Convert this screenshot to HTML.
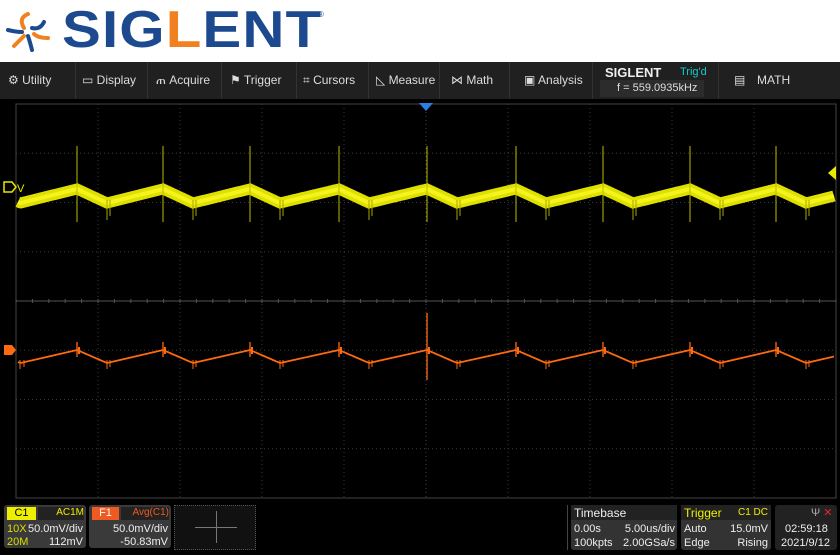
<!DOCTYPE html>
<html><head><meta charset="utf-8"><style>
body{margin:0;width:840px;height:555px;overflow:hidden;background:#000;font-family:"Liberation Sans",sans-serif;position:relative}
.top{position:absolute;left:0;top:0;width:840px;height:62px;background:#fff}
.logo{position:absolute;left:62px;top:2px;font:900 52px/56px "Liberation Sans",sans-serif;color:#1d4a8f;letter-spacing:1px;transform:scaleX(1.12);transform-origin:left}
.logo span{color:#f08020}
.menu{position:absolute;left:0;top:62px;width:840px;height:37px;background:#202020;color:#ddd;font-size:12px}
.menu div{position:absolute;top:11px}
.sep{position:absolute;top:0;width:1px;height:37px;background:#333}
.box{position:absolute;background:#3a3a3a;border-radius:3px;color:#eee;font-size:11px}
.box div{position:absolute}
</style></head><body>
<div class="top"><div class="logo">SIG<span>L</span>ENT</div>
<svg style="position:absolute;left:4px;top:8px" width="50" height="48" viewBox="0 0 50 48">
<g fill="none" stroke-width="4" stroke-linecap="round">
<path d="M24 6 Q14 10 20 20" stroke="#f08020"/><path d="M40 14 Q36 22 28 20" stroke="#1d4a8f"/>
<path d="M44 30 Q34 30 30 26" stroke="#f08020"/><path d="M28 42 Q26 34 24 28" stroke="#1d4a8f"/>
<path d="M10 38 Q16 32 20 28" stroke="#f08020"/><path d="M4 22 Q12 24 18 24" stroke="#1d4a8f"/></g></svg>
<div style="position:absolute;left:318px;top:10px;font-size:8px;color:#1d4a8f">®</div></div>
<div class="menu">
<div style="left:8px">⚙ Utility</div><div style="left:82px">▭ Display</div><div style="left:156px">ጠ Acquire</div>
<div style="left:230px">⚑ Trigger</div><div style="left:303px">⌗ Cursors</div><div style="left:376px">◺ Measure</div>
<div style="left:451px">⋈ Math</div><div style="left:524px">▣ Analysis</div>
<div style="left:605px;top:3px;font-weight:bold;font-size:13px;color:#eee">SIGLENT</div>
<div style="left:680px;top:4px;color:#1cc;font-size:11px">Trig'd</div>
<div style="left:600px;top:18px;width:104px;height:17px;background:#2c2c2c"></div>
<div style="left:617px;top:20px;font-size:11px">f = 559.0935kHz</div>
<div style="left:734px">▤</div><div style="left:757px">MATH</div>
<span class="sep" style="left:75px"></span><span class="sep" style="left:147px"></span><span class="sep" style="left:221px"></span><span class="sep" style="left:296px"></span><span class="sep" style="left:368px"></span><span class="sep" style="left:439px"></span><span class="sep" style="left:509px"></span><span class="sep" style="left:592px"></span><span class="sep" style="left:718px"></span>
</div>
<svg id="scr" style="position:absolute;left:0;top:99px" width="840" height="402"></svg>
<div class="box" style="left:4px;top:505px;width:82px;height:43px">
<div style="left:3px;top:2px;width:29px;height:13px;background:#ee0;color:#000;text-align:center;font-size:11px">C1</div>
<div style="left:34px;top:2px;width:46px;height:13px;background:#222;color:#ee0;text-align:right;font-size:10px">AC1M</div>
<div style="left:3px;top:18px;color:#dd0">10X</div><div style="right:3px;top:18px">50.0mV/div</div>
<div style="left:3px;top:31px;color:#dd0">20M</div><div style="right:3px;top:31px">112mV</div></div>
<div class="box" style="left:89px;top:505px;width:82px;height:43px">
<div style="left:3px;top:2px;width:27px;height:13px;background:#f05a20;color:#fff;text-align:center">F1</div>
<div style="left:32px;top:2px;width:48px;height:13px;background:#222;color:#f05a20;text-align:right;font-size:10px">Avg(C1)</div>
<div style="right:3px;top:18px">50.0mV/div</div><div style="right:3px;top:31px">-50.83mV</div></div>
<div style="position:absolute;left:174px;top:505px;width:80px;height:43px;border:1px dotted #555;background:#111">
<div style="position:absolute;left:20px;top:21px;width:42px;height:1px;background:#777"></div>
<div style="position:absolute;left:41px;top:5px;width:1px;height:32px;background:#777"></div></div>
<div style="position:absolute;left:567px;top:505px;width:1px;height:45px;background:#444"></div>
<div class="box" style="left:571px;top:505px;width:106px;height:45px;background:#333">
<div style="left:0;top:0;width:106px;height:15px;background:#222"></div>
<div style="left:3px;top:1px;font-size:12px">Timebase</div>
<div style="left:3px;top:18px">0.00s</div><div style="right:2px;top:18px">5.00us/div</div>
<div style="left:3px;top:32px">100kpts</div><div style="right:2px;top:32px">2.00GSa/s</div></div>
<div class="box" style="left:681px;top:505px;width:90px;height:45px;background:#333">
<div style="left:0;top:0;width:90px;height:15px;background:#222"></div>
<div style="left:3px;top:1px;font-size:12px;color:#ee0">Trigger</div>
<div style="right:3px;top:2px;font-size:10px;color:#ee0">C1 DC</div>
<div style="left:3px;top:18px">Auto</div><div style="right:3px;top:18px">15.0mV</div>
<div style="left:3px;top:32px">Edge</div><div style="right:3px;top:32px">Rising</div></div>
<div class="box" style="left:775px;top:505px;width:62px;height:45px;background:#222">
<div style="left:36px;top:1px;color:#aaa">Ψ <span style="color:#e22">✕</span></div>
<div style="left:10px;top:18px">02:59:18</div><div style="left:6px;top:32px">2021/9/12</div></div>
<script>
var s=document.getElementById('scr'),h='';
var T=99,X0=16,X1=836,Y0=104-T,Y1=498-T,dx=82,dy=49.25;
h+='<rect x="'+X0+'" y="'+Y0+'" width="820" height="394" fill="none" stroke="#444"/>';
for(var i=1;i<10;i++)h+='<line x1="'+(X0+i*dx)+'" y1="'+Y0+'" x2="'+(X0+i*dx)+'" y2="'+Y1+'" stroke="#3a3a3a" stroke-dasharray="1,3"/>';
for(var j=1;j<8;j++)h+='<line x1="'+X0+'" y1="'+(Y0+j*dy)+'" x2="'+X1+'" y2="'+(Y0+j*dy)+'" stroke="#3a3a3a" stroke-dasharray="1,3"/>';
var cy=Y0+4*dy;h+='<line x1="'+X0+'" y1="'+cy+'" x2="'+X1+'" y2="'+cy+'" stroke="#555"/>';
for(var x=X0;x<X1;x+=16.4)h+='<line x1="'+x+'" y1="'+(cy-2)+'" x2="'+x+'" y2="'+(cy+2)+'" stroke="#555"/>';
h+='<line x1="426" y1="'+Y0+'" x2="426" y2="'+Y1+'" stroke="#444" stroke-dasharray="1,3"/>';
h+='<polygon points="419,4 433,4 426,12" fill="#2a7fe0"/>';
var P=[77,163,250,339,427,516,603,690,776,862],pre=-9.5;
function w(x){var p=pre;for(var k=0;k<P.length;k++){if(x>=P[k])p=P[k];}var nx=P.length;for(var k=0;k<P.length;k++)if(P[k]>x){nx=P[k];break;}var t=x-p;if(t<=30)return 1-t/30;return (t-30)/(nx-p-30);}
var yp='',op='';
for(var x=X0+2;x<=X1-2;x+=1){var v=w(x);yp+=x+','+(203-v*14-99).toFixed(1)+' ';op+=x+','+(363-v*13-99).toFixed(1)+' ';}
h+='<polyline points="'+yp+'" fill="none" stroke="#e0e000" stroke-width="11" stroke-linecap="butt"/>';
h+='<polyline points="'+yp+'" fill="none" stroke="#ffff30" stroke-width="4" opacity=".6"/>';
for(var k=0;k<9;k++){var p=P[k];h+='<line x1="'+p+'" y1="'+(146-T)+'" x2="'+p+'" y2="'+(222-T)+'" stroke="#bbbb00" stroke-width="1"/>';
h+='<line x1="'+(p+30)+'" y1="'+(200-T)+'" x2="'+(p+30)+'" y2="'+(220-T)+'" stroke="#aaaa00"/><line x1="'+(p+33)+'" y1="'+(200-T)+'" x2="'+(p+33)+'" y2="'+(216-T)+'" stroke="#aaaa00"/>';
var up=(p==427)?313:342;h+='<line x1="'+p+'" y1="'+(up-T)+'" x2="'+p+'" y2="'+((p==427?380:357)-T)+'" stroke="#ff6a10" stroke-width="1.3"/><rect x="'+(p+1)+'" y="'+(347-T)+'" width="2" height="7" fill="#ff6a10"/>';
h+='<line x1="'+(p+30)+'" y1="'+(360-T)+'" x2="'+(p+30)+'" y2="'+(369-T)+'" stroke="#ff6a10"/><line x1="'+(p+33)+'" y1="'+(360-T)+'" x2="'+(p+33)+'" y2="'+(367-T)+'" stroke="#ff6a10"/>';}
h+='<line x1="20" y1="'+(360-T)+'" x2="20" y2="'+(369-T)+'" stroke="#ff6a10"/><line x1="24" y1="'+(360-T)+'" x2="24" y2="'+(367-T)+'" stroke="#ff6a10"/>';
h+='<polyline points="'+op+'" fill="none" stroke="#ff6a10" stroke-width="1.8"/>';
h+='<path d="M4 83 h8 l4 5 l-4 5 h-8z" fill="none" stroke="#e8e800" stroke-width="1.5"/><text x="17" y="93" fill="#e8e800" font-size="11" font-family="Liberation Sans">V</text>';
h+='<path d="M4 246 h8 l4 5 l-4 5 h-8z" fill="#ff6a10"/>';
h+='<polygon points="836,67 836,81 828,74" fill="#e8e800"/>';
s.innerHTML=h;
</script>
</body></html>
